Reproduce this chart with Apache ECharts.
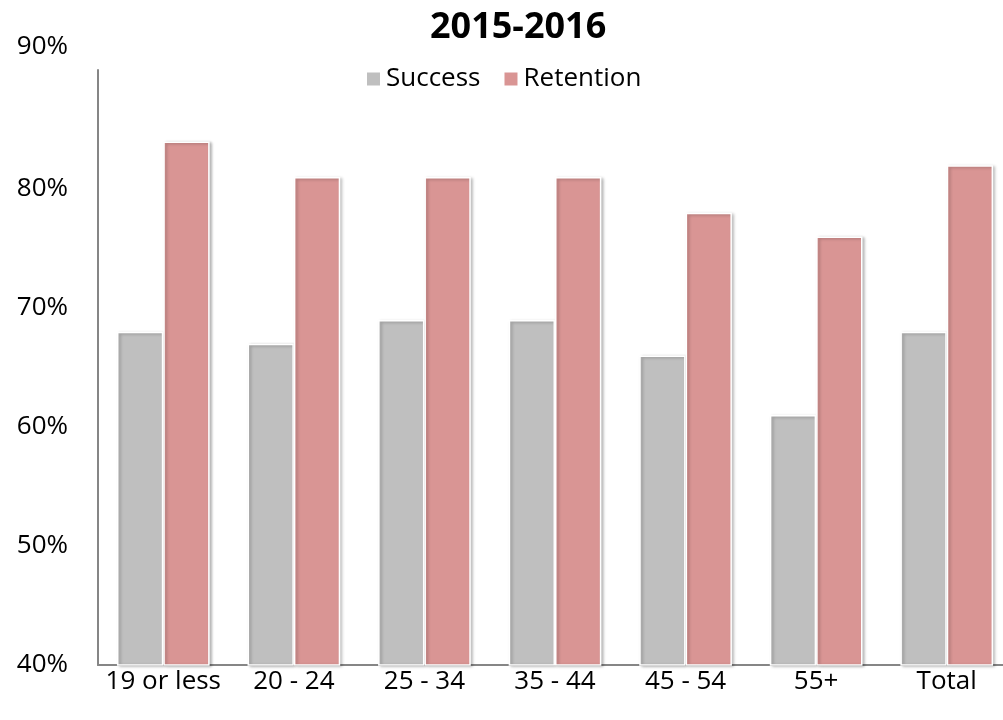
<!DOCTYPE html>
<html><head><meta charset="utf-8">
<script src="https://cdn.jsdelivr.net/npm/echarts@6/dist/echarts.min.js"></script>
<style>html,body{margin:0;padding:0;background:#fff}#c{width:1003px;height:720px}</style>
</head><body><div id="c"></div>
<script>
const categories = ['19 or less', '20 - 24', '25 - 34', '35 - 44', '45 - 54', '55+', 'Total'];
const success = [68, 67, 69, 69, 66, 61, 68];
const retention = [84, 81, 81, 81, 78, 76, 82];
const yTicks = [40, 50, 60, 70, 80, 90];

const chart = echarts.init(document.getElementById('c'));
const font = '"Open Sans", "Noto Sans", sans-serif';
const barStyle = (color) => ({
  color: color,
  borderColor: '#ffffff',
  borderWidth: 1.5,
  shadowColor: 'rgba(0,0,0,0.28)',
  shadowBlur: 3,
  shadowOffsetX: 2,
  shadowOffsetY: 1
});
chart.setOption({
  animation: false,
  title: {
    text: '2015-2016', left: 425, top: 5,
    textStyle: { fontFamily: font, fontSize: 36, fontWeight: 'bold', color: '#000' }
  },
  legend: {
    top: 61, left: 360, itemWidth: 15, itemHeight: 15, itemGap: 22,
    icon: 'rect',
    textStyle: { fontFamily: font, fontSize: 26, color: '#000' },
    data: ['Success', 'Retention']
  },
  grid: { left: 98, top: 70, bottom: 55, right: -9, containLabel: false, outerBoundsMode: 'none' },
  xAxis: {
    type: 'category',
    data: categories,
    axisLine: { lineStyle: { color: '#868686', width: 2 } },
    axisTick: { show: false },
    axisLabel: { fontFamily: font, fontSize: 26, color: '#000', margin: 4, interval: 0 }
  },
  yAxis: {
    type: 'value', min: 40, max: 90, interval: 10,
    axisLine: { show: true, lineStyle: { color: '#868686', width: 2 } },
    axisTick: { show: false },
    splitLine: { show: false },
    axisLabel: {
      fontFamily: font, fontSize: 26, color: '#000', margin: 30,
      formatter: v => yTicks.includes(v) ? (v === 90 ? '{top|' + v + '%}' : v + '%') : '',
      rich: { top: { fontFamily: font, fontSize: 26, color: '#000', padding: [0, 0, 46, 0] } }
    }
  },
  series: [
    { name: 'Success', type: 'bar', data: success, barGap: '0%', barCategoryGap: '29%', itemStyle: barStyle('#BFBFBF') },
    { name: 'Retention', type: 'bar', data: retention, barGap: '0%', barCategoryGap: '29%', itemStyle: barStyle('#D99594') }
  ]
});
</script></body></html>
